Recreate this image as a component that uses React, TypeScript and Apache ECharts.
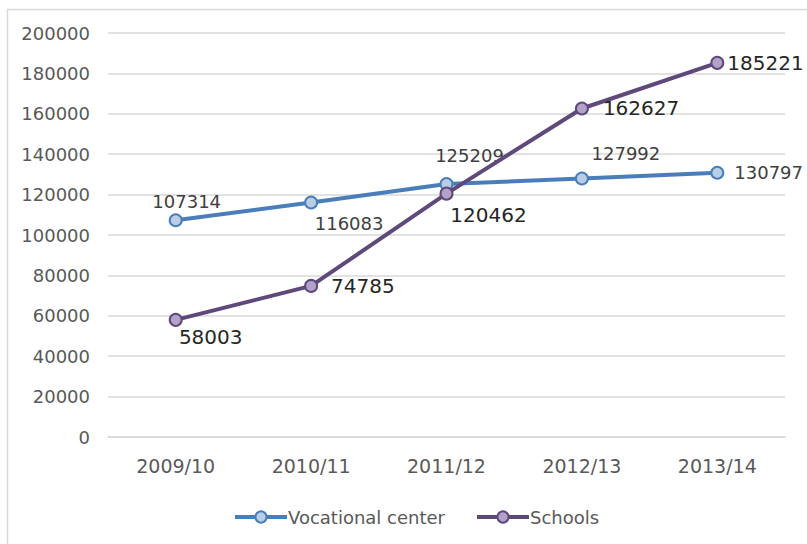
import React, { useEffect, useRef } from "react";
import * as echarts from "echarts";

const categories = ["2009/10", "2010/11", "2011/12", "2012/13", "2013/14"];
const vocationalValues = [107314, 116083, 125209, 127992, 130797];
const schoolValues = [58003, 74785, 120462, 162627, 185221];
const seriesNames = ["Vocational center", "Schools"];

// label placement per point: [position, dx, dy]
const vocLabelPlace: [string, number, number][] = [
  ["top", 11, 2],
  ["bottom", 38, 0],
  ["top", 23, -8],
  ["top", 44, -4],
  ["right", 5, 0],
];
const schLabelPlace: [string, number, number][] = [
  ["bottom", 35, -5],
  ["right", 8, 0],
  ["bottom", 42, -1],
  ["right", 9, 0],
  ["right", -2, 0],
];

export default function App() {
  const ref = useRef<HTMLDivElement>(null);
  useEffect(() => {
    if (!ref.current) return;
    const chart = echarts.init(ref.current, undefined, { renderer: "svg" });
    const font = "DejaVu Sans";
    const mk = (vals: number[], place: [string, number, number][], size: number, color: string) =>
      vals.map((v, i) => ({
        value: v,
        label: {
          show: true,
          position: place[i][0] as any,
          offset: [place[i][1], place[i][2]],
          fontSize: size,
          color,
          fontFamily: font,
        },
      }));
    chart.setOption({
      animation: false,
      backgroundColor: "#ffffff",
      graphic: [
        {
          type: "rect",
          left: 5,
          top: 7,
          shape: { x: 0, y: 0, width: 815, height: 550 },
          style: { fill: "none", stroke: "#d9d9d9", lineWidth: 1.5 },
          silent: true,
        },
      ],
      grid: { left: 108, right: 22, top: 33, bottom: 107, containLabel: false },
      legend: {
        data: seriesNames,
        left: 228,
        top: 503,
        itemWidth: 52,
        itemHeight: 14,
        itemGap: 30,
        lineStyle: { width: 4 },
        textStyle: { fontFamily: font, fontSize: 18, color: "#595959", padding: [0, 0, 0, -4] },
      },
      xAxis: {
        type: "category",
        data: categories,
        boundaryGap: true,
        axisLine: { show: true, lineStyle: { color: "#d9d9d9", width: 1.5 } },
        axisTick: { show: false },
        axisLabel: { fontFamily: font, fontSize: 19, color: "#595959", margin: 19 },
      },
      yAxis: {
        type: "value",
        min: 0,
        max: 200000,
        interval: 20000,
        axisLine: { show: false },
        axisTick: { show: false },
        axisLabel: {
          fontFamily: font,
          fontSize: 18,
          color: "#595959",
          margin: 18,
          formatter: (v: number) => String(v),
        },
        splitLine: { lineStyle: { color: "#d9d9d9", width: 1.5 } },
      },
      series: [
        {
          name: seriesNames[0],
          type: "line",
          data: mk(vocationalValues, vocLabelPlace, 18, "#404040"),
          symbol: "circle",
          symbolSize: 12,
          lineStyle: { color: "#4a7ebb", width: 4 },
          itemStyle: { color: "#b9cde5", borderColor: "#4a7ebb", borderWidth: 2 },
          z: 2,
        },
        {
          name: seriesNames[1],
          type: "line",
          data: mk(schoolValues, schLabelPlace, 20, "#262626"),
          symbol: "circle",
          symbolSize: 12,
          lineStyle: { color: "#5f497a", width: 4 },
          itemStyle: { color: "#b3a2c7", borderColor: "#5f497a", borderWidth: 2 },
          z: 3,
        },
      ],
    });
    return () => chart.dispose();
  }, []);
  return (
    <div
      ref={ref}
      style={{ position: "fixed", left: 0, top: 0, width: 807, height: 544 }}
    />
  );
}
